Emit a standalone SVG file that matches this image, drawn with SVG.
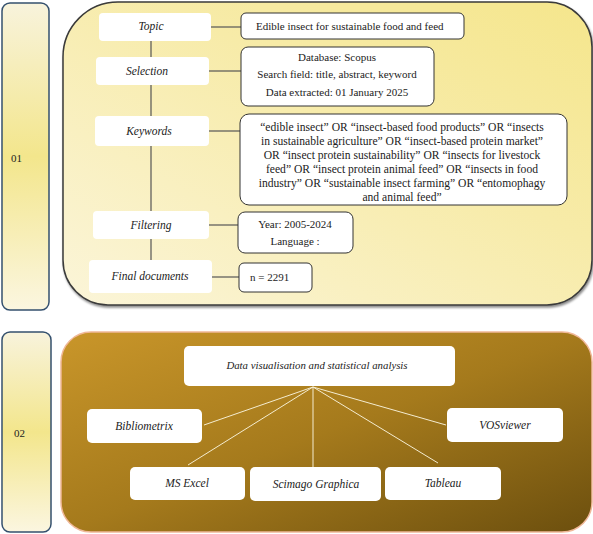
<svg xmlns="http://www.w3.org/2000/svg" width="593" height="534" viewBox="0 0 593 534">
<defs>
<linearGradient id="gBar" x1="0" y1="0" x2="0" y2="1">
<stop offset="0" stop-color="#f8f3dc"/>
<stop offset="0.5" stop-color="#f3e68c"/>
<stop offset="1" stop-color="#fbf6e0"/>
</linearGradient>
<linearGradient id="gP1" x1="0" y1="1" x2="1" y2="0">
<stop offset="0" stop-color="#fbf5d9"/>
<stop offset="0.6" stop-color="#f7eba8"/>
<stop offset="1" stop-color="#f5e68c"/>
</linearGradient>
<linearGradient id="gP2" x1="0" y1="0" x2="1" y2="1">
<stop offset="0" stop-color="#c9962a"/>
<stop offset="0.5" stop-color="#a57a1c"/>
<stop offset="1" stop-color="#6c4f0e"/>
</linearGradient>
<filter id="sh" x="-5%" y="-5%" width="110%" height="110%">
<feDropShadow dx="1" dy="2" stdDeviation="1.2" flood-color="#000" flood-opacity="0.45"/>
</filter>
</defs>
<style>
.bar{fill:url(#gBar);stroke:#34506e;stroke-width:1.5}
.lbl{fill:#fff}
.val{fill:#fff;stroke:#333;stroke-width:1}
.it{font-family:"Liberation Serif",serif;font-style:italic;font-size:11.5px;fill:#222;text-anchor:middle}
.tx{font-family:"Liberation Serif",serif;font-size:11px;fill:#222}
.kw{font-family:"Liberation Serif",serif;font-size:11.6px;fill:#222;text-anchor:middle}
.c{text-anchor:middle}
.num{font-family:"Liberation Serif",serif;font-size:11px;fill:#222}
.ln{stroke:#555;stroke-width:1.2;fill:none}
.wl{stroke:#f4ecd0;stroke-width:1;fill:none}
</style>

<g id="bar01"><rect class="bar" x="2" y="3" width="47" height="307" rx="8"/><text class="num" x="11" y="162">01</text></g>
<g id="bar02"><rect class="bar" x="2" y="332" width="49" height="200" rx="8"/><text class="num" x="14" y="437">02</text></g>

<g id="panel01"><path d="M118,2 H547 A45,45 0 0 1 592,47 V260 A45,45 0 0 1 547,305 H108 A45,45 0 0 1 63,260 V57 A55,55 0 0 1 118,2 Z" fill="url(#gP1)" stroke="#3a3a3a" stroke-width="1.5" filter="url(#sh)"/></g>
<g id="panel02"><rect x="61" y="332" width="531" height="200" rx="30" fill="url(#gP2)" stroke="#f0b898" stroke-width="1.5"/></g>

<g id="connectors">
<line class="ln" x1="151" y1="41" x2="151" y2="260"/>
<line class="ln" x1="211" y1="27" x2="241" y2="27"/>
<line class="ln" x1="209" y1="71" x2="241" y2="71"/>
<line class="ln" x1="209" y1="131" x2="240" y2="131"/>
<line class="ln" x1="209" y1="225" x2="238" y2="225"/>
<line class="ln" x1="212" y1="277" x2="239" y2="277"/>
<line class="wl" x1="313" y1="387" x2="204" y2="425"/>
<line class="wl" x1="313" y1="387" x2="188" y2="465"/>
<line class="wl" x1="313" y1="387" x2="313" y2="467"/>
<line class="wl" x1="313" y1="387" x2="438" y2="463"/>
<line class="wl" x1="313" y1="387" x2="446" y2="425"/>
</g>

<g id="topic"><rect class="lbl" x="99" y="13" width="112" height="28" rx="4"/><text class="it" x="151" y="30">Topic</text></g>
<g id="topic-val"><rect class="val" x="241" y="13" width="223" height="26" rx="5"/><text class="tx" x="256" y="30">Edible insect for sustainable food and feed</text></g>

<g id="selection"><rect class="lbl" x="96" y="57" width="113" height="28" rx="4"/><text class="it" x="147" y="75">Selection</text></g>
<g id="selection-val"><rect class="val" x="241" y="47" width="193" height="59" rx="7"/>
<text class="tx c" x="337" y="61">Database: Scopus</text>
<text class="tx c" x="337" y="78">Search field: title, abstract, keyword</text>
<text class="tx c" x="337" y="96">Data extracted: 01 January 2025</text></g>

<g id="keywords"><rect class="lbl" x="95" y="116" width="114" height="30" rx="4"/><text class="it" x="149" y="135">Keywords</text></g>
<g id="keywords-val"><rect class="val" x="240" y="114" width="327" height="91" rx="9"/>
<text class="kw" x="402" y="131">“edible insect” OR “insect-based food products” OR “insects</text>
<text class="kw" x="402" y="145">in sustainable agriculture” OR “insect-based protein market”</text>
<text class="kw" x="402" y="159">OR “insect protein sustainability” OR “insects for livestock</text>
<text class="kw" x="402" y="173">feed” OR “insect protein animal feed” OR “insects in food</text>
<text class="kw" x="402" y="187">industry” OR “sustainable insect farming” OR “entomophagy</text>
<text class="kw" x="402" y="201">and animal feed”</text></g>

<g id="filtering"><rect class="lbl" x="93" y="211" width="116" height="28" rx="4"/><text class="it" x="151" y="229">Filtering</text></g>
<g id="filtering-val"><rect class="val" x="238" y="212" width="115" height="41" rx="7"/>
<text class="tx c" x="295" y="228">Year: 2005-2024</text>
<text class="tx c" x="295" y="245">Language :</text></g>

<g id="final"><rect class="lbl" x="89" y="260" width="123" height="33" rx="4"/><text class="it" x="150" y="280">Final documents</text></g>
<g id="final-val"><rect class="val" x="239" y="263" width="73" height="29" rx="5"/><text class="tx" x="250" y="281">n = 2291</text></g>

<g id="dataviz"><rect class="lbl" x="184" y="346" width="271" height="40" rx="5"/><text class="it" x="317" y="369" style="font-size:10.8px">Data visualisation and statistical analysis</text></g>
<g id="bibliometrix"><rect class="lbl" x="87" y="409" width="115" height="34" rx="5"/><text class="it" x="144" y="430">Bibliometrix</text></g>
<g id="vosviewer"><rect class="lbl" x="447" y="408" width="116" height="34" rx="5"/><text class="it" x="505" y="429">VOSviewer</text></g>
<g id="msexcel"><rect class="lbl" x="130" y="467" width="115" height="33" rx="5"/><text class="it" x="187" y="487">MS Excel</text></g>
<g id="scimago"><rect class="lbl" x="250" y="467" width="131" height="34" rx="5"/><text class="it" x="316" y="488">Scimago Graphica</text></g>
<g id="tableau"><rect class="lbl" x="385" y="467" width="116" height="33" rx="5"/><text class="it" x="443" y="487">Tableau</text></g>
</svg>
